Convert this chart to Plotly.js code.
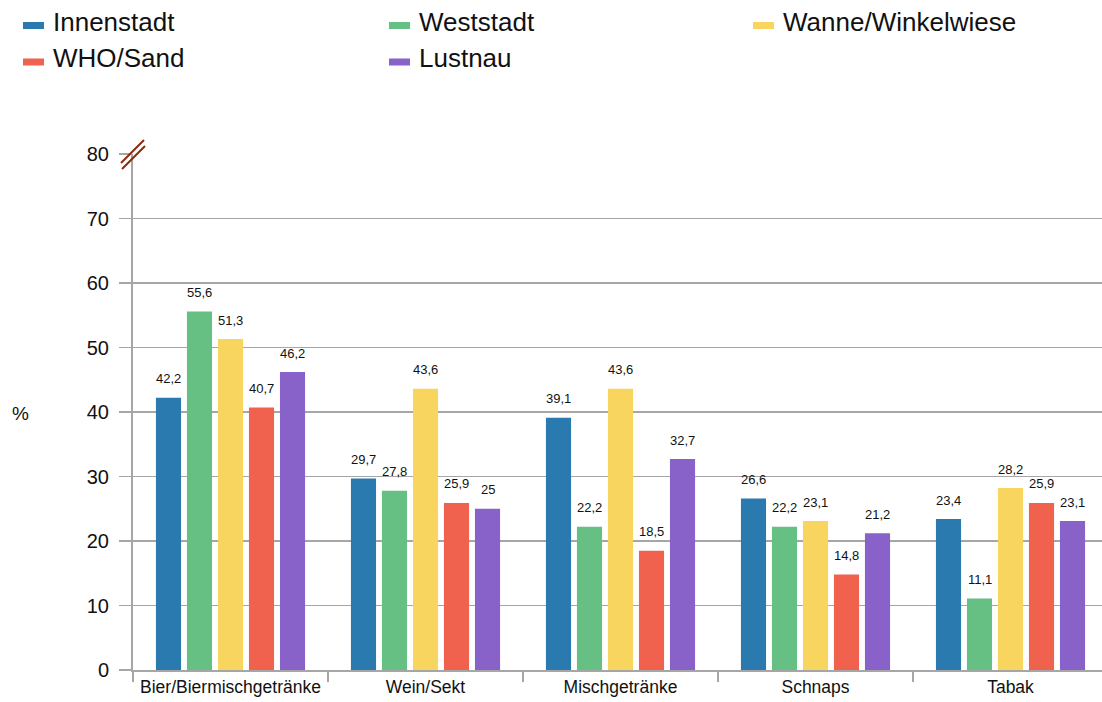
<!DOCTYPE html>
<html><head><meta charset="utf-8">
<script src="https://cdn.plot.ly/plotly-3.0.1.min.js"></script>
<style>html,body{margin:0;padding:0;overflow:hidden;background:#fff}</style>
</head><body><div id="chart" style="width:1108px;height:702px"></div>
<script>
const categories = ['Bier/Biermischgetränke','Wein/Sekt','Mischgetränke','Schnaps','Tabak'];
const seriesNames = ['Innenstadt','Weststadt','Wanne/Winkelwiese','WHO/Sand','Lustnau'];
const innenstadt = [42.2, 29.7, 39.1, 26.6, 23.4];
const weststadt  = [55.6, 27.8, 22.2, 22.2, 11.1];
const wanne      = [51.3, 43.6, 43.6, 23.1, 28.2];
const whoSand    = [40.7, 25.9, 18.5, 14.8, 25.9];
const lustnau    = [46.2, 25.0, 32.7, 21.2, 23.1];
const yTickVals  = [0, 10, 20, 30, 40, 50, 60, 70, 80];
const yAxisLabel = '%';

const series = [innenstadt, weststadt, wanne, whoSand, lustnau];
const colors = ['#2A7AB0', '#66BF83', '#F8D55E', '#F0624E', '#8862C8'];

const W = 1108, H = 702, ML = 133, MR = 0, MT = 154, MB = 32;
const PW = W - ML - MR, PH = H - MT - MB;
const px = v => (v - ML) / PW;          // pixel x -> paper x
const py = v => (H - MB - v) / PH;      // pixel y -> paper y

const traces = series.map((vals, j) => ({
  type: 'bar', name: seriesNames[j], x: categories, y: vals,
  marker: {color: colors[j]}, showlegend: false, hoverinfo: 'x+y+name'
}));

const fmt = v => String(v).replace('.', ',');
const slot = 31 / 195;
const annotations = [];
series.forEach((vals, j) => {
  vals.forEach((v, i) => {
    annotations.push({
      xref: 'x', yref: 'y', x: i + (j - 2) * slot, y: v, text: fmt(v),
      showarrow: false, yanchor: 'middle', xanchor: 'center', yshift: 19,
      font: {family: 'Liberation Sans, Arial, sans-serif', size: 13, color: '#111'}
    });
  });
});
// y axis label (horizontal)
annotations.push({
  xref: 'paper', yref: 'paper', x: px(20), y: py(413), text: yAxisLabel, showarrow: false,
  xanchor: 'center', yanchor: 'middle',
  font: {family: 'Liberation Sans, Arial, sans-serif', size: 19, color: '#111'}
});

// manual legend
const legCols = [23, 389, 753];
const legRows = [25.5, 62];
const shapes = [];
seriesNames.forEach((name, j) => {
  const cx = legCols[j % 3], cy = legRows[Math.floor(j / 3)];
  shapes.push({type: 'rect', xref: 'paper', yref: 'paper',
    x0: px(cx), x1: px(cx + 21), y0: py(cy - 3.5), y1: py(cy + 3.5),
    fillcolor: colors[j], line: {width: 0}});
  annotations.push({xref: 'paper', yref: 'paper', x: px(cx + 28), y: py(cy - 4),
    text: name, showarrow: false, xanchor: 'left', yanchor: 'middle',
    font: {family: 'Liberation Sans, Arial, sans-serif', size: 26, color: '#111'}});
});
// axis break mark
shapes.push({type: 'line', xref: 'paper', yref: 'paper', x0: px(121), y0: py(163), x1: px(144), y1: py(140),
  line: {color: '#8B2A0A', width: 2}});
shapes.push({type: 'line', xref: 'paper', yref: 'paper', x0: px(122), y0: py(169), x1: px(145), y1: py(146),
  line: {color: '#8B2A0A', width: 2}});

const layout = {
  width: W, height: H,
  margin: {l: ML, r: MR, t: MT, b: MB, pad: 0},
  paper_bgcolor: '#fff', plot_bgcolor: '#fff',
  barmode: 'group', bargap: 0.205, bargroupgap: 0.19,
  font: {family: 'Liberation Sans, Arial, sans-serif', color: '#111'},
  xaxis: {
    type: 'category', tickson: 'boundaries', ticks: 'outside', ticklen: 10, tickangle: 0,
    tickcolor: '#a6a6a6', tickwidth: 1.5, showline: true, linecolor: '#a6a6a6', linewidth: 2,
    showgrid: false, tickfont: {size: 17.5, color: '#111'}, fixedrange: true
  },
  yaxis: {
    range: [0, 80], tickvals: yTickVals, ticks: 'outside', ticklen: 12,
    tickcolor: '#a6a6a6', tickwidth: 1.5, showline: true, linecolor: '#a6a6a6', linewidth: 2,
    gridcolor: '#a6a6a6', gridwidth: 1.4, zeroline: false,
    tickfont: {size: 20, color: '#111'}, ticklabelstandoff: 6
  },
  annotations: annotations, shapes: shapes, showlegend: false
};

Plotly.newPlot('chart', traces, layout, {displayModeBar: false, staticPlot: true});
</script>
</body></html>
